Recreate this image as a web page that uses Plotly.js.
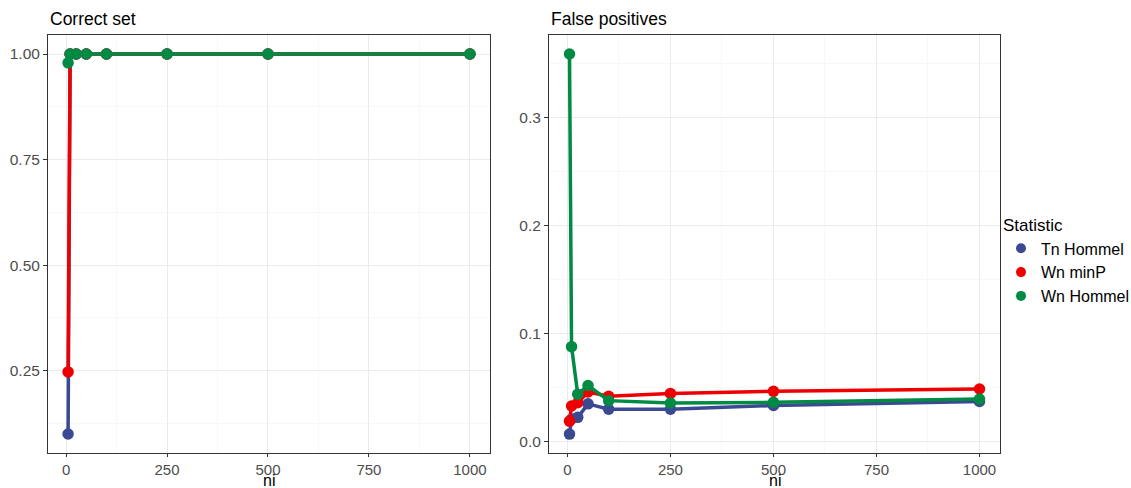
<!DOCTYPE html>
<html>
<head>
<meta charset="utf-8">
<script src="https://cdn.plot.ly/plotly-3.0.1.min.js"></script>
<style>body{margin:0;padding:0;background:#fff;} #chart{width:1131px;height:488px;}</style>
</head>
<body>
<div id="chart"></div>
<script>
const ni = [5, 10, 25, 50, 100, 250, 500, 1000];
const seriesNames = ["Tn Hommel", "Wn minP", "Wn Hommel"];
const colors = ["#3B4992", "#EE0000", "#008B45"];
const xTicks = [0, 250, 500, 750, 1000];

// Correct set
const correctTn = [0.10, 1.0, 1.0, 1.0, 1.0, 1.0, 1.0, 1.0];
const correctWnMinP = [0.247, 1.0, 1.0, 1.0, 1.0, 1.0, 1.0, 1.0];
const correctWnHommel = [0.979, 1.0, 1.0, 1.0, 1.0, 1.0, 1.0, 1.0];

// False positives
const fpTn = [0.007, 0.021, 0.0225, 0.035, 0.030, 0.030, 0.0335, 0.0373];
const fpWnMinP = [0.019, 0.033, 0.036, 0.046, 0.042, 0.0447, 0.0466, 0.0488];
const fpWnHommel = [0.359, 0.088, 0.044, 0.052, 0.038, 0.0358, 0.0364, 0.0395];

const correct = [correctTn, correctWnMinP, correctWnHommel];
const fp = [fpTn, fpWnMinP, fpWnHommel];

const traces = [];
for (let i = 0; i < 3; i++) {
  traces.push({x: ni, y: correct[i], xaxis: 'x', yaxis: 'y', mode: 'lines+markers',
    line: {color: colors[i], width: 3.5}, marker: {color: colors[i], size: 11.5},
    showlegend: false, hoverinfo: 'x+y'});
}
for (let i = 0; i < 3; i++) {
  traces.push({x: ni, y: fp[i], xaxis: 'x2', yaxis: 'y2', mode: 'lines+markers',
    line: {color: colors[i], width: 3.5}, marker: {color: colors[i], size: 11.5},
    showlegend: false, hoverinfo: 'x+y'});
}
for (let i = 0; i < 3; i++) {
  traces.push({x: [null], y: [null], xaxis: 'x2', yaxis: 'y2', mode: 'markers',
    name: seriesNames[i], marker: {color: colors[i], size: 10}, showlegend: true});
}

const fontFam = '"Liberation Sans", Arial, sans-serif';
const W = 1131, L = 48;
const pw = W - L;
const d = px => (px - L) / pw;
function xax(domain, anchor) {
  return {domain: domain, anchor: anchor, range: [-44.75, 1049.75],
    tickvals: xTicks, ticktext: xTicks.map(String),
    showgrid: true, gridcolor: '#EBEBEB', gridwidth: 1,
    minor: {tickvals: [125, 375, 625, 875], showgrid: true, gridcolor: '#F5F5F5', gridwidth: 0.7, ticklen: 0},
    zeroline: false, showline: true, mirror: true, linecolor: '#333333', linewidth: 1,
    ticks: 'outside', ticklen: 2.5, tickcolor: '#333333', tickwidth: 1,
    automargin: false,
    tickfont: {family: fontFam, size: 15, color: '#4D4D4D'}};
}
function yax(anchor, range, vals, text, minor) {
  return {domain: [0, 1], anchor: anchor, range: range,
    tickvals: vals, ticktext: text,
    showgrid: true, gridcolor: '#EBEBEB',
    minor: {tickvals: minor, showgrid: true, gridcolor: '#F5F5F5', gridwidth: 0.7, ticklen: 0},
    zeroline: false, showline: true, mirror: true, linecolor: '#333333', linewidth: 1,
    ticks: 'outside', ticklen: 4, tickcolor: '#333333', automargin: false,
    tickfont: {family: fontFam, size: 15.5, color: '#4D4D4D'}};
}
const leftDom = [0, d(490)], rightDom = [d(549), d(1000)];
const layout = {
  width: W, height: 488,
  margin: {l: L, r: 0, t: 35, b: 35, autoexpand: false},
  paper_bgcolor: '#fff', plot_bgcolor: '#fff',
  font: {family: fontFam},
  xaxis: xax(leftDom, 'y'),
  xaxis2: xax(rightDom, 'y2'),
  yaxis: yax('x', [0.055, 1.045], [0.25, 0.5, 0.75, 1.0], ['0.25', '0.50', '0.75', '1.00'], [0.125, 0.375, 0.625, 0.875]),
  yaxis2: yax('x2', [-0.0105, 0.3766], [0, 0.1, 0.2, 0.3], ['0.0', '0.1', '0.2', '0.3'], [0.05, 0.15, 0.25, 0.35]),
  legend: {x: d(1001), y: 0.583, xanchor: 'left', yanchor: 'top',
    title: {text: 'Statistic', font: {family: fontFam, size: 17, color: '#000'}},
    font: {family: fontFam, size: 16, color: '#000'}, tracegroupgap: 0, itemwidth: 30,
    bgcolor: 'rgba(0,0,0,0)'},
  annotations: [
    {text: 'Correct set', xref: 'paper', yref: 'paper', x: leftDom[0], y: 1, xanchor: 'left', yanchor: 'bottom', yshift: 4,
     showarrow: false, font: {family: fontFam, size: 17.5, color: '#000'}},
    {text: 'False positives', xref: 'paper', yref: 'paper', x: rightDom[0], y: 1, xanchor: 'left', yanchor: 'bottom', yshift: 4,
     showarrow: false, font: {family: fontFam, size: 17.5, color: '#000'}},
    {text: 'ni', xref: 'paper', yref: 'paper', x: (leftDom[0] + leftDom[1]) / 2, y: 0, xanchor: 'center', yanchor: 'middle', yshift: -27,
     showarrow: false, font: {family: fontFam, size: 16, color: '#000'}},
    {text: 'ni', xref: 'paper', yref: 'paper', x: (rightDom[0] + rightDom[1]) / 2, y: 0, xanchor: 'center', yanchor: 'middle', yshift: -27,
     showarrow: false, font: {family: fontFam, size: 16, color: '#000'}}
  ],
  showlegend: true
};
Plotly.newPlot('chart', traces, layout, {displayModeBar: false, staticPlot: true});
</script>
</body>
</html>
